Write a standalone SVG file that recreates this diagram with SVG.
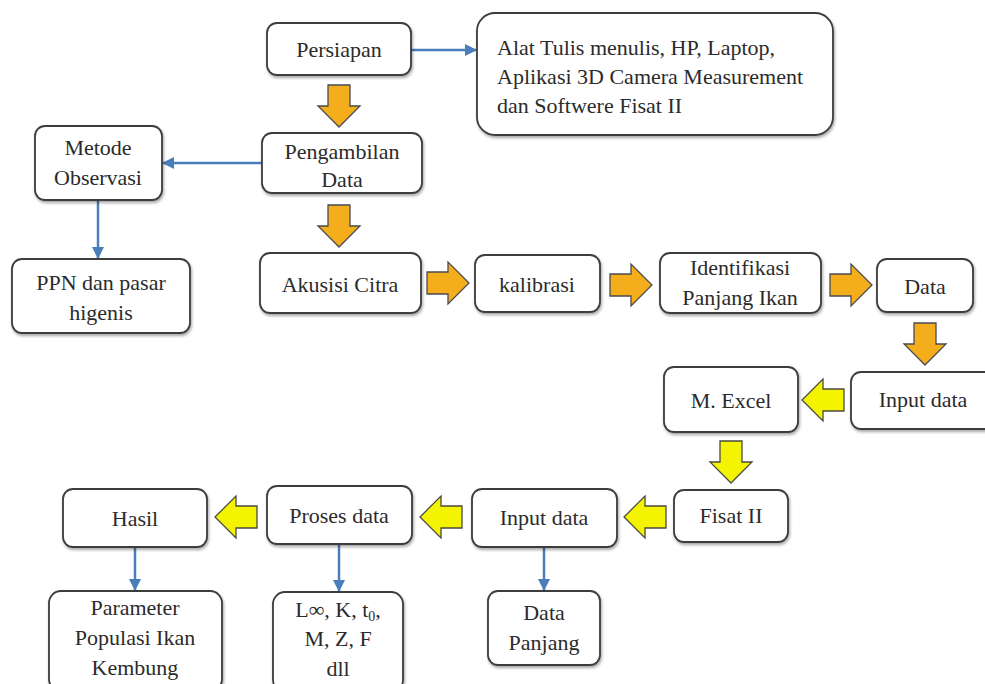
<svg xmlns="http://www.w3.org/2000/svg" xmlns:xlink="http://www.w3.org/1999/xlink" width="985" height="684" viewBox="0 0 985 684">
<style>
.box{fill:#ffffff;stroke:#3c3c3c;stroke-width:1.8;filter:url(#sh)}
.t{font-family:'Liberation Serif','Times New Roman',serif;font-size:22px;fill:#2b2b2b;text-anchor:middle}
.tl{font-family:'Liberation Serif','Times New Roman',serif;font-size:22px;fill:#2b2b2b}
.con{stroke:#4a7ebb;stroke-width:2.5;fill:none;marker-end:url(#ah)}
.org{fill:#F4AE1B;stroke:#4a4a55;stroke-width:1.3}
.yel{fill:#F4F400;stroke:#4a4a40;stroke-width:1.3}
</style>
<defs>
<filter id="sh" x="-10%" y="-10%" width="130%" height="140%">
<feDropShadow dx="1" dy="2" stdDeviation="1.5" flood-color="#000" flood-opacity="0.35"/>
</filter>
<marker id="ah" markerUnits="userSpaceOnUse" markerWidth="12" markerHeight="12" viewBox="0 0 12 12" refX="11" refY="6" orient="auto">
<path d="M0,0 L12,6 L0,12 Z" fill="#4a7ebb"/>
</marker>
<path id="ad" d="M-11,0 H11 V21 H21 L0,42 L-21,21 H-11 Z"/>
</defs>
<rect width="985" height="684" fill="#ffffff"/>

<g id="connectors">
<line class="con" x1="411" y1="50" x2="476" y2="50"/>
<line class="con" x1="262" y1="163" x2="163" y2="163"/>
<line class="con" x1="98" y1="200" x2="98" y2="258"/>
<line class="con" x1="135" y1="548" x2="135" y2="590"/>
<line class="con" x1="339" y1="545" x2="339" y2="591"/>
<line class="con" x1="544" y1="548" x2="544" y2="590"/>
<use href="#ad" class="org" transform="translate(339,85)"/>
<use href="#ad" class="org" transform="translate(339,205)"/>
<use href="#ad" class="org" transform="translate(427,283) rotate(-90)"/>
<use href="#ad" class="org" transform="translate(610,285) rotate(-90)"/>
<use href="#ad" class="org" transform="translate(830,285) rotate(-90)"/>
<use href="#ad" class="org" transform="translate(925,323)"/>
<use href="#ad" class="yel" transform="translate(844,400) rotate(90)"/>
<use href="#ad" class="yel" transform="translate(731,441)"/>
<use href="#ad" class="yel" transform="translate(666,517) rotate(90)"/>
<use href="#ad" class="yel" transform="translate(462,517) rotate(90)"/>
<use href="#ad" class="yel" transform="translate(257,517) rotate(90)"/>
</g>

<g id="persiapan"><rect class="box" x="267" y="23" width="144" height="52" rx="10"/><text class="t" x="339" y="57">Persiapan</text></g>
<g id="alat"><rect class="box" x="477" y="13" width="356" height="122" rx="18"/>
<text class="tl" x="497" y="55">Alat Tulis menulis, HP, Laptop,</text>
<text class="tl" x="497" y="84">Aplikasi 3D Camera Measurement</text>
<text class="tl" x="497" y="113">dan Softwere Fisat II</text></g>
<g id="pengambilan"><rect class="box" x="262" y="133" width="160" height="60" rx="10"/><text class="t" x="342" y="159">Pengambilan</text><text class="t" x="342" y="187">Data</text></g>
<g id="metode"><rect class="box" x="35" y="126" width="127" height="74" rx="10"/><text class="t" x="98" y="155">Metode</text><text class="t" x="98" y="185">Observasi</text></g>
<g id="ppn"><rect class="box" x="12" y="259" width="178" height="74" rx="10"/><text class="t" x="101" y="290">PPN dan pasar</text><text class="t" x="101" y="320">higenis</text></g>
<g id="akusisi"><rect class="box" x="260" y="253" width="161" height="60" rx="10"/><text class="t" x="340" y="292">Akusisi Citra</text></g>
<g id="kalibrasi"><rect class="box" x="475" y="255" width="125" height="57" rx="10"/><text class="t" x="537" y="292">kalibrasi</text></g>
<g id="identifikasi"><rect class="box" x="660" y="253" width="161" height="60" rx="10"/><text class="t" x="740" y="275">Identifikasi</text><text class="t" x="740" y="305">Panjang Ikan</text></g>
<g id="data"><rect class="box" x="877" y="259" width="96" height="53" rx="10"/><text class="t" x="925" y="294">Data</text></g>
<g id="input1"><rect class="box" x="851" y="372" width="150" height="57" rx="10"/><text class="t" x="923" y="407">Input data</text></g>
<g id="mexcel"><rect class="box" x="664" y="367" width="134" height="65" rx="10"/><text class="t" x="731" y="408">M. Excel</text></g>
<g id="fisat"><rect class="box" x="674" y="490" width="114" height="52" rx="10"/><text class="t" x="731" y="523">Fisat II</text></g>
<g id="input2"><rect class="box" x="472" y="489" width="145" height="58" rx="10"/><text class="t" x="544" y="525">Input data</text></g>
<g id="proses"><rect class="box" x="267" y="486" width="145" height="58" rx="10"/><text class="t" x="339" y="523">Proses data</text></g>
<g id="hasil"><rect class="box" x="63" y="489" width="144" height="58" rx="10"/><text class="t" x="135" y="526">Hasil</text></g>
<g id="parameter"><rect class="box" x="49" y="591" width="173" height="100" rx="12"/><text class="t" x="135" y="615">Parameter</text><text class="t" x="135" y="645">Populasi Ikan</text><text class="t" x="135" y="675">Kembung</text></g>
<g id="linf"><rect class="box" x="273" y="592" width="130" height="100" rx="12"/><text class="t" x="338" y="617">L∞, K, t<tspan font-size="14" dy="4">0</tspan><tspan dy="-4">,</tspan></text><text class="t" x="338" y="646">M, Z, F</text><text class="t" x="338" y="676">dll</text></g>
<g id="datapanjang"><rect class="box" x="488" y="591" width="112" height="74" rx="10"/><text class="t" x="544" y="620">Data</text><text class="t" x="544" y="650">Panjang</text></g>
</svg>
